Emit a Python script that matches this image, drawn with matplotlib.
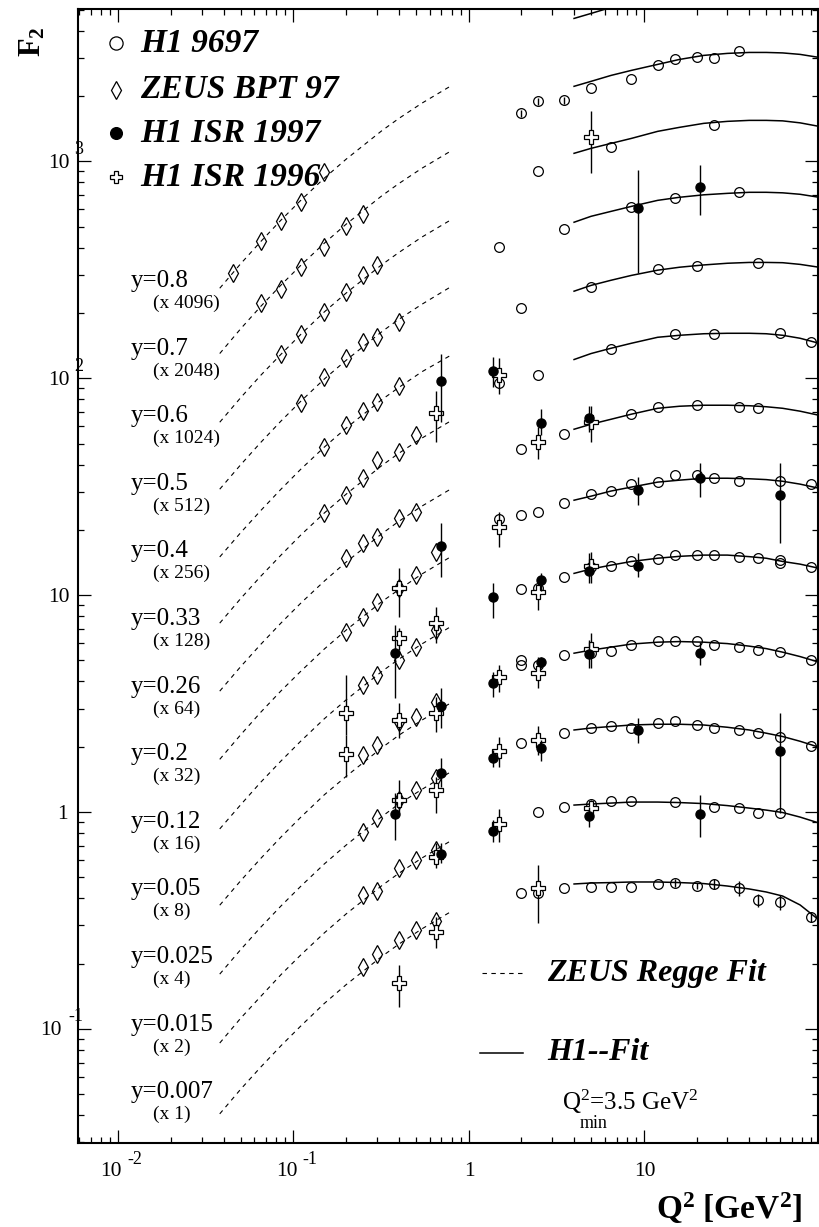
import numpy as np
import matplotlib
matplotlib.use('Agg')
import matplotlib.pyplot as plt

plt.rcParams['font.family'] = ['Liberation Serif', 'DejaVu Serif']
plt.rcParams['mathtext.fontset'] = 'custom'
plt.rcParams['mathtext.rm'] = 'Liberation Serif'
plt.rcParams['mathtext.it'] = 'Liberation Serif:italic'
plt.rcParams['mathtext.bf'] = 'Liberation Serif:bold'

# y bins, top to bottom
y_labels = ['y=0.8', 'y=0.7', 'y=0.6', 'y=0.5', 'y=0.4', 'y=0.33', 'y=0.26',
            'y=0.2', 'y=0.12', 'y=0.05', 'y=0.025', 'y=0.015', 'y=0.007']
y_scales = ['(x 4096)', '(x 2048)', '(x 1024)', '(x 512)', '(x 256)', '(x 128)', '(x 64)',
            '(x 32)', '(x 16)', '(x 8)', '(x 4)', '(x 2)', '(x 1)']

# ZEUS Regge fit (dashed), values already scaled
zeus_fit_q2 = [0.038, 0.05, 0.065, 0.085, 0.11, 0.15, 0.2, 0.32, 0.4, 0.54, 0.81]
zeus_fit_f2 = [
    [260, 337, 426, 536, 660, 836, 1023, 1385, 1577, 1852, 2251],
    [130, 169, 214, 269, 331, 419, 513, 694, 790, 928, 1128],
    [62.7, 81.3, 103, 129, 159, 202, 247, 334, 380, 447, 543],
    [30.8, 39.9, 50.5, 63.5, 78.2, 99.1, 121, 164, 187, 219, 267],
    [15.0, 19.4, 24.5, 30.8, 38.0, 48.1, 58.9, 79.7, 90.7, 107, 129],
    [7.43, 9.64, 12.2, 15.3, 18.9, 23.9, 29.2, 39.6, 45.1, 52.9, 64.3],
    [3.61, 4.68, 5.92, 7.44, 9.17, 11.6, 14.2, 19.2, 21.9, 25.7, 31.2],
    [1.75, 2.27, 2.88, 3.62, 4.45, 5.64, 6.90, 9.34, 10.6, 12.5, 15.2],
    [0.836, 1.08, 1.37, 1.72, 2.12, 2.69, 3.29, 4.45, 5.07, 5.95, 7.24],
    [0.372, 0.482, 0.610, 0.767, 0.945, 1.20, 1.46, 1.98, 2.26, 2.65, 3.22],
    [0.179, 0.232, 0.294, 0.369, 0.454, 0.576, 0.704, 0.953, 1.09, 1.27, 1.55],
    [0.0861, 0.112, 0.141, 0.178, 0.219, 0.277, 0.339, 0.458, 0.522, 0.613, 0.745],
    [0.0406, 0.0527, 0.0666, 0.0837, 0.103, 0.131, 0.160, 0.216, 0.246, 0.289, 0.351],
]

# H1 fit (solid)
h1_fit_q2 = [4, 5, 6.5, 8.5, 12, 16, 22, 30, 40, 50, 62, 78, 100]
h1_fit_f2 = [
    [4560, 4808, 5125, 5404, 5760, 6074, 6337, 6474, 6543, 6543, 6508, 6405, 6203],
    [2218, 2338, 2490, 2627, 2799, 2951, 3080, 3146, 3178, 3178, 3162, 3113, 3015],
    [1089, 1148, 1210, 1276, 1375, 1435, 1497, 1529, 1545, 1545, 1537, 1505, 1450],
    [524, 558, 588, 620, 661, 683, 701, 712, 720, 720, 716, 705, 683],
    [252, 268, 283, 298, 315, 325, 333, 339, 342, 342, 341, 335, 325],
    [122, 130, 137.5, 145, 154.5, 157.8, 160.4, 161.2, 161.2, 160.4, 157.8, 152.9, 145],
    [58.2, 61.4, 64.7, 68.3, 72.7, 74.3, 75.1, 75.1, 74.7, 73.9, 72.7, 70.5, 67.5],
    [27.4, 28.6, 30.2, 31.5, 33.2, 33.9, 34.6, 34.6, 34.4, 34.1, 33.5, 32.5, 31.1],
    [12.6, 13.2, 13.75, 14.3, 14.8, 15.1, 15.3, 15.3, 15.05, 14.8, 14.3, 13.9, 13.3],
    [5.40, 5.58, 5.76, 5.95, 6.07, 6.11, 6.07, 5.98, 5.82, 5.67, 5.46, 5.21, 4.91],
    [2.39, 2.44, 2.48, 2.52, 2.54, 2.54, 2.52, 2.46, 2.39, 2.31, 2.23, 2.12, 1.99],
    [1.077, 1.089, 1.100, 1.112, 1.112, 1.106, 1.094, 1.071, 1.043, 1.021, 0.995, 0.948, 0.890],
    [0.466, 0.471, 0.473, 0.476, 0.476, 0.473, 0.468, 0.456, 0.442, 0.428, 0.410, 0.373, 0.318],
]

# ZEUS BPT 97 (diamonds)
bpt_q2 = [
    [0.045, 0.065, 0.085, 0.11, 0.15],
    [0.065, 0.085, 0.11, 0.15, 0.2, 0.25],
    [0.085, 0.11, 0.15, 0.2, 0.25, 0.3],
    [0.11, 0.15, 0.2, 0.25, 0.3, 0.4],
    [0.15, 0.2, 0.25, 0.3, 0.4],
    [0.15, 0.2, 0.25, 0.3, 0.4, 0.5],
    [0.2, 0.25, 0.3, 0.4, 0.5],
    [0.2, 0.25, 0.3, 0.4, 0.5, 0.65],
    [0.25, 0.3, 0.4, 0.5, 0.65],
    [0.25, 0.3, 0.4, 0.5, 0.65],
    [0.25, 0.3, 0.4, 0.5, 0.65],
    [0.25, 0.3, 0.4, 0.5, 0.65],
    [0.25, 0.3, 0.4, 0.5, 0.65],
]
bpt_f2 = [
    [305, 428, 529, 647, 890],
    [222, 257, 325, 402, 502, 570],
    [130, 160, 201, 249, 298, 332],
    [76.7, 101, 124, 147, 155, 181],
    [48.1, 60.7, 70.5, 77.5, 91.9],
    [23.9, 28.9, 34.6, 41.9, 45.6, 54.6],
    [14.8, 17.4, 18.5, 22.6, 24.1],
    [6.75, 7.92, 9.29, 10.8, 12.4, 15.8],
    [3.85, 4.28, 5.02, 5.76, 6.90],
    [1.83, 2.04, 2.60, 2.74, 3.21],
    [0.809, 0.938, 1.14, 1.26, 1.43],
    [0.415, 0.432, 0.552, 0.601, 0.668],
    [0.193, 0.222, 0.257, 0.286, 0.315],
]

# H1 9697 (open circles)
h1_q2 = [
    [],
    [2, 2.5, 3.5, 5, 8.5, 12, 15, 20, 25, 35],
    [2.5, 6.5, 25],
    [1.5, 3.5, 8.5, 15, 35],
    [2, 5, 12, 20, 45],
    [1.5, 2.5, 6.5, 15, 25, 60, 90],
    [2, 3.5, 8.5, 12, 20, 35, 45],
    [1.5, 2, 2.5, 3.5, 5, 6.5, 8.5, 12, 15, 20, 25, 35, 60, 90],
    [2, 2.5, 3.5, 5, 6.5, 8.5, 12, 15, 20, 25, 35, 45, 60, 60, 90],
    [2, 2, 2.5, 3.5, 5, 6.5, 8.5, 12, 15, 20, 25, 35, 45, 60, 90],
    [2, 3.5, 5, 6.5, 8.5, 12, 15, 20, 25, 35, 45, 60, 90],
    [2.5, 3.5, 5, 6.5, 8.5, 15, 25, 35, 45, 60],
    [2, 2.5, 3.5, 5, 6.5, 8.5, 12, 15, 20, 25, 35, 45, 60, 90],
]
h1_f2 = [
    [],
    [1664, 1890, 1910, 2170, 2388, 2770, 2951, 3015, 2985, 3213],
    [899, 1161, 1466],
    [402, 486, 614, 675, 720],
    [210, 263, 318, 328, 339],
    [94.8, 104, 137, 160, 160, 161, 147],
    [47.1, 55.2, 68.3, 73.5, 75.1, 73.5, 72.7],
    [22.4, 23.4, 24.1, 26.5, 29.2, 30.2, 32.5, 33.2, 35.7, 35.7, 34.6, 33.5, 33.5, 32.5],
    [10.7, 10.8, 12.1, 13.5, 13.6, 14.3, 14.7, 15.3, 15.3, 15.3, 15.0, 14.8, 14.5, 14.0, 13.5],
    [5.02, 4.76, 4.76, 5.29, 5.40, 5.52, 5.88, 6.14, 6.14, 6.14, 5.88, 5.76, 5.58, 5.46, 5.02],
    [2.08, 2.31, 2.44, 2.49, 2.44, 2.57, 2.63, 2.52, 2.44, 2.39, 2.31, 2.22, 2.02],
    [1.00, 1.05, 1.09, 1.12, 1.12, 1.11, 1.05, 1.04, 0.99, 0.99],
    [0.423, 0.423, 0.447, 0.451, 0.451, 0.451, 0.466, 0.471, 0.456, 0.466, 0.447, 0.393, 0.385, 0.328],
]
# relative errors where a bar is visible
h1_relerr = {
    1: [0.04, 0.04, 0.04, 0, 0, 0, 0, 0, 0, 0],
    12: [0, 0, 0, 0, 0, 0, 0, 0.04, 0.03, 0.05, 0.08, 0.07, 0.08, 0.05],
}

# H1 ISR 1997 (filled circles)
isr97_q2 = [0.38, 0.38, 0.7, 0.7, 0.7, 0.7, 0.7, 1.37, 1.37, 1.37, 1.37, 1.37,
            2.6, 2.6, 2.6, 2.6, 4.85, 4.85, 4.85, 4.85, 9.3, 9.3, 9.3, 9.3,
            21, 21, 21, 21, 60, 60]
isr97_f2 = [5.40, 0.979, 96.9, 16.8, 3.08, 1.51, 0.640, 108, 9.79, 3.93, 1.77, 0.817,
            62.1, 11.7, 4.91, 1.97, 65.4, 12.9, 5.35, 0.958, 607, 30.5, 13.7, 2.39,
            759, 34.6, 5.40, 0.979, 28.9, 1.91]
isr97_hi = [7.27, 1.22, 130, 21.5, 3.73, 1.77, 0.720, 125, 11.4, 4.42, 1.93, 0.919,
            71.9, 12.6, 5.18, 2.15, 74.3, 15.6, 6.21, 1.05, 909, 35.0, 15.6, 2.71,
            959, 40.6, 6.07, 1.20, 40.6, 2.86]
isr97_lo = [3.35, 0.743, 62.7, 12.1, 2.44, 1.30, 0.582, 90.9, 7.83, 3.39, 1.61, 0.727,
            54.6, 10.5, 4.61, 1.72, 56.4, 11.4, 4.61, 0.853, 305, 26.0, 12.1, 2.08,
            564, 28.3, 4.76, 0.767, 17.4, 0.99]

# H1 ISR 1996 (open crosses)
isr96_q2 = [0.2, 0.2, 0.4, 0.4, 0.4, 0.4, 0.4, 0.65, 0.65, 0.65, 0.65, 0.65, 0.65,
            1.5, 1.5, 1.5, 1.5, 1.5, 2.5, 2.5, 2.5, 2.5, 2.5, 5, 5, 5, 5, 5]
isr96_f2 = [2.86, 1.85, 10.8, 6.34, 2.65, 1.14, 0.163, 69.0, 7.43, 2.86, 1.26, 0.621, 0.280,
            104, 20.6, 4.19, 1.91, 0.881, 50.7, 10.3, 4.37, 2.15, 0.447,
            1291, 62.7, 13.6, 5.64, 1.04]
isr96_hi = [4.28, 2.26, 13.3, 7.05, 3.18, 1.40, 0.197, 87.1, 8.81, 3.39, 1.45, 0.720, 0.328,
            124, 24.1, 4.76, 2.22, 1.03, 59.4, 12.0, 5.18, 2.49, 0.570,
            1700, 74.3, 15.8, 6.68, 1.14]
isr96_lo = [2.26, 1.45, 7.92, 5.58, 2.19, 1.00, 0.126, 50.7, 6.01, 2.34, 0.99, 0.552, 0.236,
            84.4, 16.6, 3.57, 1.61, 0.727, 42.3, 8.53, 3.73, 1.83, 0.308,
            880, 50.7, 11.4, 4.61, 0.938]

# ---------------------------------------------------------------
W, H = 819, 1227
fig = plt.figure(figsize=(W / 100, H / 100), dpi=100)
ax = fig.add_axes([78 / W, 84 / H, 740 / W, 1134 / H])
ax.set_xscale('log')
ax.set_yscale('log')
ax.set_xlim(0.0059, 98.7)
ax.set_ylim(0.0298, 5040)

# fits
for k in range(len(y_labels)):
    ax.plot(zeus_fit_q2, zeus_fit_f2[k], color='k', lw=0.8, ls=(0, (4, 4)), zorder=2)
    ax.plot(h1_fit_q2, h1_fit_f2[k], color='k', lw=1.1, zorder=2)

# ZEUS BPT diamonds
for k in range(len(y_labels)):
    ax.plot(bpt_q2[k], bpt_f2[k], ls='none', marker='d', ms=9, mfc='none',
            mec='k', mew=0.9, zorder=3)

# H1 9697 circles
for k in range(len(y_labels)):
    if not h1_q2[k]:
        continue
    q = np.array(h1_q2[k]); f = np.array(h1_f2[k])
    if k in h1_relerr:
        e = f * np.array(h1_relerr[k])
        ax.errorbar(q, f, yerr=e, fmt='none', ecolor='k', elinewidth=1.0, zorder=3)
    ax.plot(q, f, ls='none', marker='o', ms=7, mfc='none', mec='k', mew=0.9, zorder=4)

# H1 ISR 1996 crosses
q = np.array(isr96_q2); f = np.array(isr96_f2)
ax.errorbar(q, f, yerr=[f - np.array(isr96_lo), np.array(isr96_hi) - f],
            fmt='none', ecolor='k', elinewidth=1.0, zorder=4)
ax.plot(q, f, ls='none', marker='P', ms=10, mfc='white', mec='k', mew=0.9, zorder=5)

# H1 ISR 1997 filled circles
q = np.array(isr97_q2); f = np.array(isr97_f2)
ax.errorbar(q, f, yerr=[f - np.array(isr97_lo), np.array(isr97_hi) - f],
            fmt='none', ecolor='k', elinewidth=1.0, zorder=5)
ax.plot(q, f, ls='none', marker='o', ms=6.5, mfc='k', mec='k', zorder=6)

# bin labels
def ax_y(py):
    return 1 - (py - 9) / 1134.0

for k in range(len(y_labels)):
    base = 287 + 67.6 * k
    ax.text((131 - 78) / 740, ax_y(base), y_labels[k], transform=ax.transAxes,
            fontsize=18, ha='left', va='baseline')
    ax.text((153 - 78) / 740, ax_y(base + 21), y_scales[k], transform=ax.transAxes,
            fontsize=14, ha='left', va='baseline')

# top legend
leg_names = ['H1 9697', 'ZEUS BPT 97', 'H1 ISR 1997', 'H1 ISR 1996']
leg_rows = [43, 90, 133, 177]
leg_marks = [dict(marker='o', ms=9.5, mfc='none'), dict(marker='d', ms=9, mfc='none'),
             dict(marker='o', ms=8.5, mfc='k'), dict(marker='P', ms=9, mfc='white')]
for name, row, mk in zip(leg_names, leg_rows, leg_marks):
    ax.plot([(116 - 78) / 740], [ax_y(row)], transform=ax.transAxes, ls='none',
            mec='k', mew=0.9, clip_on=False, zorder=7, **mk)
    ax.text((140 - 78) / 740, ax_y(row), name, transform=ax.transAxes, fontsize=24,
            fontweight='bold', style='italic', ha='left', va='center')

# bottom legend
ax.plot([(482 - 78) / 740, (523 - 78) / 740], [ax_y(973)] * 2, transform=ax.transAxes,
        color='k', lw=0.8, ls=(0, (4, 4)))
ax.text((547 - 78) / 740, ax_y(973), 'ZEUS Regge Fit', transform=ax.transAxes,
        fontsize=23, fontweight='bold', style='italic', ha='left', va='center')
ax.plot([(480 - 78) / 740, (523 - 78) / 740], [ax_y(1053)] * 2, transform=ax.transAxes,
        color='k', lw=1.1)
ax.text((547 - 78) / 740, ax_y(1053), 'H1--Fit', transform=ax.transAxes,
        fontsize=23, fontweight='bold', style='italic', ha='left', va='center')
ax.text((562 - 78) / 740, ax_y(1110), r'Q$^2$=3.5 GeV$^2$', transform=ax.transAxes,
        fontsize=18, ha='left', va='baseline')
ax.text((580 - 78) / 740, ax_y(1128), 'min', transform=ax.transAxes,
        fontsize=13, ha='left', va='baseline')

# axes styling
for s in ax.spines.values():
    s.set_linewidth(1.5)
ax.tick_params(which='both', direction='in', top=True, right=True,
               labelbottom=False, labelleft=False, width=0.9)
ax.tick_params(which='major', length=9.5)
ax.tick_params(which='minor', length=4.5)

# tick labels in the "10 -2" style
xt = [0.01, 0.1, 1, 10]
xt_base = ['10', '10', '1', '10']
xt_exp = ['-2', '-1', '', '']
for v, b, e in zip(xt, xt_base, xt_exp):
    if e:
        ax.annotate(b, (v, 0.0298), xytext=(4, -28), textcoords='offset pixels',
                    ha='right', va='center', fontsize=15.5, annotation_clip=False)
        ax.annotate(e, (v, 0.0298), xytext=(9, -17), textcoords='offset pixels',
                    ha='left', va='center', fontsize=13, annotation_clip=False)
    else:
        ax.annotate(b, (v, 0.0298), xytext=(1, -28), textcoords='offset pixels',
                    ha='center', va='center', fontsize=15.5, annotation_clip=False)

yt = [0.1, 1, 10, 100, 1000]
yt_base = ['10', '1', '10', '10', '10']
yt_exp = ['-1', '', '', '2', '3']
yt_shift = [-16, -10, -8, -8, -8]
for v, b, e, sh in zip(yt, yt_base, yt_exp, yt_shift):
    ax.annotate(b, (0.0059, v), xytext=(sh, -2), textcoords='offset pixels',
                ha='right', va='center', fontsize=15.5, annotation_clip=False)
    if e:
        ax.annotate(e, (0.0059, v), xytext=(5, 12), textcoords='offset pixels',
                    ha='right', va='center', fontsize=13, annotation_clip=False)

fig.text(33 / W, 1 - 42 / H, r'$\mathbf{F_2}$', rotation=90, fontsize=22,
         ha='center', va='center')
fig.text(802 / W, 1 - 1208 / H, r'$\mathbf{Q^2\ [GeV^2]}$', fontsize=24,
         ha='right', va='center')

fig.savefig('out.png', dpi=100)
